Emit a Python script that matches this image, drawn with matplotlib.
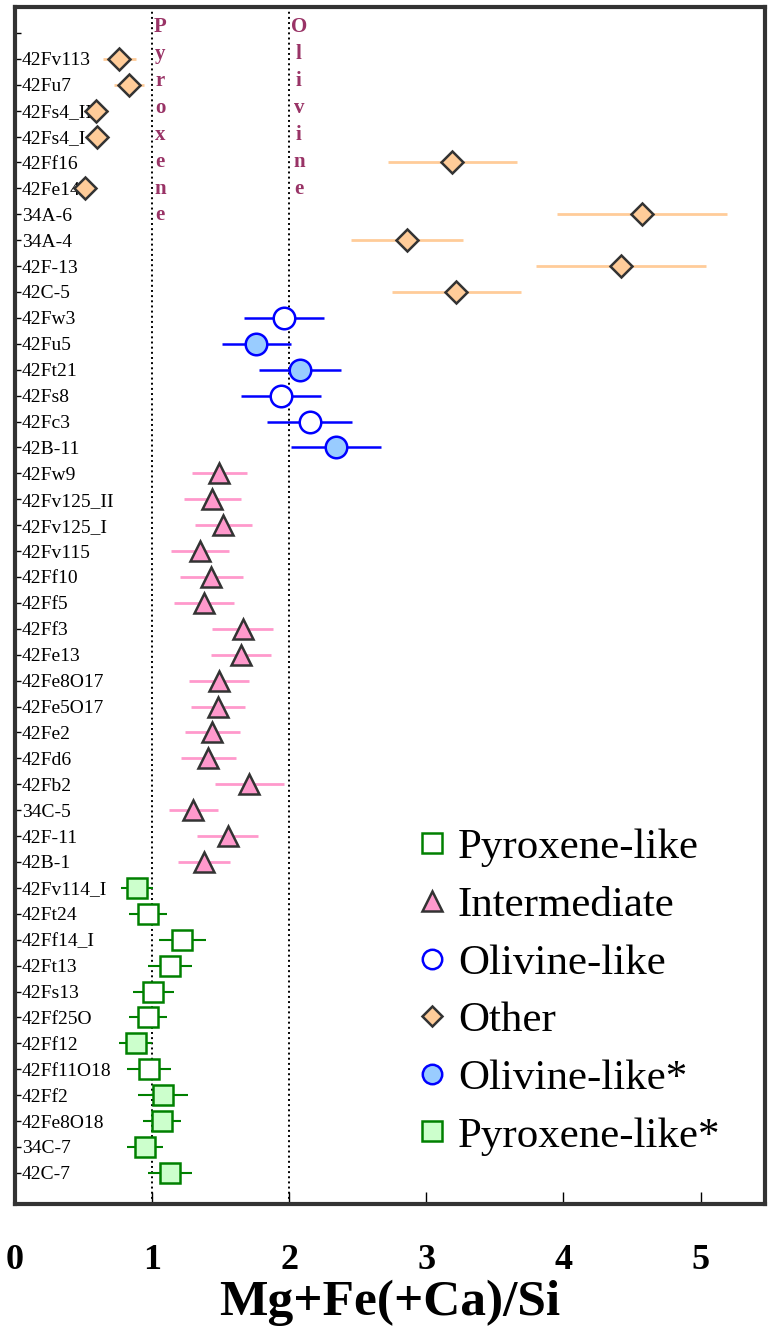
import numpy as np
import matplotlib.pyplot as plt
from matplotlib.lines import Line2D

plt.rcParams['font.family'] = ['Liberation Serif', 'DejaVu Serif']

# row labels, top to bottom (first row is an empty tick)
labels = ['', '42Fv113', '42Fu7', '42Fs4_II', '42Fs4_I', '42Ff16', '42Fe14',
          '34A-6', '34A-4', '42F-13', '42C-5',
          '42Fw3', '42Fu5', '42Ft21', '42Fs8', '42Fc3', '42B-11',
          '42Fw9', '42Fv125_II', '42Fv125_I', '42Fv115', '42Ff10', '42Ff5',
          '42Ff3', '42Fe13', '42Fe8O17', '42Fe5O17', '42Fe2', '42Fd6',
          '42Fb2', '34C-5', '42F-11', '42B-1',
          '42Fv114_I', '42Ft24', '42Ff14_I', '42Ft13', '42Fs13', '42Ff25O',
          '42Ff12', '42Ff11O18', '42Ff2', '42Fe8O18', '34C-7', '42C-7']

# Other
other_names = ['42Fv113', '42Fu7', '42Fs4_II', '42Fs4_I', '42Ff16', '42Fe14',
               '34A-6', '34A-4', '42F-13', '42C-5']
other_x = [0.76, 0.83, 0.59, 0.60, 3.19, 0.51, 4.57, 2.86, 4.42, 3.22]
other_err = [0.12, 0.11, 0.09, 0.05, 0.47, 0.05, 0.62, 0.41, 0.62, 0.47]

# Olivine-like (filled = Olivine-like*)
oliv_names = ['42Fw3', '42Fu5', '42Ft21', '42Fs8', '42Fc3', '42B-11']
oliv_x = [1.96, 1.76, 2.08, 1.94, 2.15, 2.34]
oliv_err = [0.29, 0.25, 0.30, 0.29, 0.31, 0.33]
oliv_filled = [False, True, True, False, False, True]

# Intermediate
inter_names = ['42Fw9', '42Fv125_II', '42Fv125_I', '42Fv115', '42Ff10', '42Ff5',
               '42Ff3', '42Fe13', '42Fe8O17', '42Fe5O17', '42Fe2', '42Fd6',
               '42Fb2', '34C-5', '42F-11', '42B-1']
inter_x = [1.49, 1.44, 1.52, 1.35, 1.43, 1.38, 1.66, 1.65, 1.49, 1.48,
           1.44, 1.41, 1.71, 1.30, 1.55, 1.38]
inter_err = [0.20, 0.21, 0.21, 0.21, 0.23, 0.22, 0.22, 0.22, 0.22, 0.20,
             0.20, 0.20, 0.25, 0.18, 0.22, 0.19]

# Pyroxene-like (filled = Pyroxene-like*)
pyr_names = ['42Fv114_I', '42Ft24', '42Ff14_I', '42Ft13', '42Fs13', '42Ff25O',
             '42Ff12', '42Ff11O18', '42Ff2', '42Fe8O18', '34C-7', '42C-7']
pyr_x = [0.89, 0.97, 1.22, 1.13, 1.01, 0.97, 0.88, 0.98, 1.08, 1.07, 0.95, 1.13]
pyr_err = [0.12, 0.14, 0.17, 0.16, 0.15, 0.14, 0.12, 0.16, 0.18, 0.14, 0.13, 0.16]
pyr_filled = [True, False, False, False, False, False, True, False, True, True, True, True]

row = {name: i for i, name in enumerate(labels)}

fig = plt.figure(figsize=(7.69, 13.36), dpi=100)
ax = fig.add_axes([15/769, 1-1204/1336, 750/769, 1197/1336])

ax.axvline(1, color='black', ls=':', lw=1.4, zorder=1)
ax.axvline(2, color='black', ls=':', lw=1.4, zorder=1)

edge = '#333333'

def draw(names, xs, errs, ecolor, elw, marker, ms, mec, fills, mew):
    ys = [row[n] for n in names]
    ax.errorbar(xs, ys, xerr=errs, fmt='none', ecolor=ecolor, elinewidth=elw,
                capsize=0, zorder=2)
    for x, y, fc in zip(xs, ys, fills):
        ax.plot(x, y, marker=marker, ms=ms, mfc=fc, mec=mec, mew=mew,
                ls='none', zorder=3)

draw(other_names, other_x, other_err, '#FFCC99', 2, 'D', 11, edge,
     ['#FFCC99'] * len(other_names), 1.8)
draw(oliv_names, oliv_x, oliv_err, '#0000FF', 1.8, 'o', 15.5, '#0000FF',
     ['#99CCFF' if f else 'white' for f in oliv_filled], 1.8)
draw(inter_names, inter_x, inter_err, '#FF99CC', 2, '^', 14.5, edge,
     ['#FF99CC'] * len(inter_names), 1.8)
draw(pyr_names, pyr_x, pyr_err, '#008000', 1.5, 's', 15, '#008000',
     ['#CCFFCC' if f else 'white' for f in pyr_filled], 1.8)

ax.set_xlim(0, 5.47)
ax.set_ylim(45.2, -1.0)

ax.set_yticks(range(len(labels)))
ax.set_yticklabels(labels, fontsize=14, ha='left')
ax.tick_params(axis='y', direction='in', length=4, pad=-5, width=1)
ax.set_xticks(range(6))
ax.set_xticklabels([str(i) for i in range(6)], fontsize=26, fontweight='bold')
ax.tick_params(axis='x', direction='in', length=9, pad=29, width=1)
ax.set_xlabel('Mg+Fe(+Ca)/Si', fontsize=37, fontweight='bold', labelpad=2)

for s in ax.spines.values():
    s.set_linewidth(3)
    s.set_color('#333333')

txtc = '#993366'
for i, ch in enumerate('Pyroxene'):
    ax.text(1.06, -0.04 + i * 1.04, ch, ha='center', va='baseline', color=txtc,
            fontsize=15, fontweight='bold')
for i, ch in enumerate('Olivine'):
    ax.text(2.07, -0.04 + i * 1.04, ch, ha='center', va='baseline', color=txtc,
            fontsize=15, fontweight='bold')

handles = [
    Line2D([], [], ls='none', marker='s', ms=14, mfc='white', mec='#008000', mew=1.8),
    Line2D([], [], ls='none', marker='^', ms=14, mfc='#FF99CC', mec=edge, mew=1.8),
    Line2D([], [], ls='none', marker='o', ms=14, mfc='white', mec='#0000FF', mew=1.8),
    Line2D([], [], ls='none', marker='D', ms=10, mfc='#FFCC99', mec=edge, mew=1.8),
    Line2D([], [], ls='none', marker='o', ms=14, mfc='#99CCFF', mec='#0000FF', mew=1.8),
    Line2D([], [], ls='none', marker='s', ms=14, mfc='#CCFFCC', mec='#008000', mew=1.8),
]
names = ['Pyroxene-like', 'Intermediate', 'Olivine-like', 'Other',
         'Olivine-like*', 'Pyroxene-like*']
ax.legend(handles, names, loc='upper left', bbox_to_anchor=(0.533, 0.314),
          frameon=False, fontsize=31, handlelength=0.8, handletextpad=0.2,
          labelspacing=0.43, borderpad=0, borderaxespad=0, numpoints=1)

fig.savefig('out.png', dpi=100)
